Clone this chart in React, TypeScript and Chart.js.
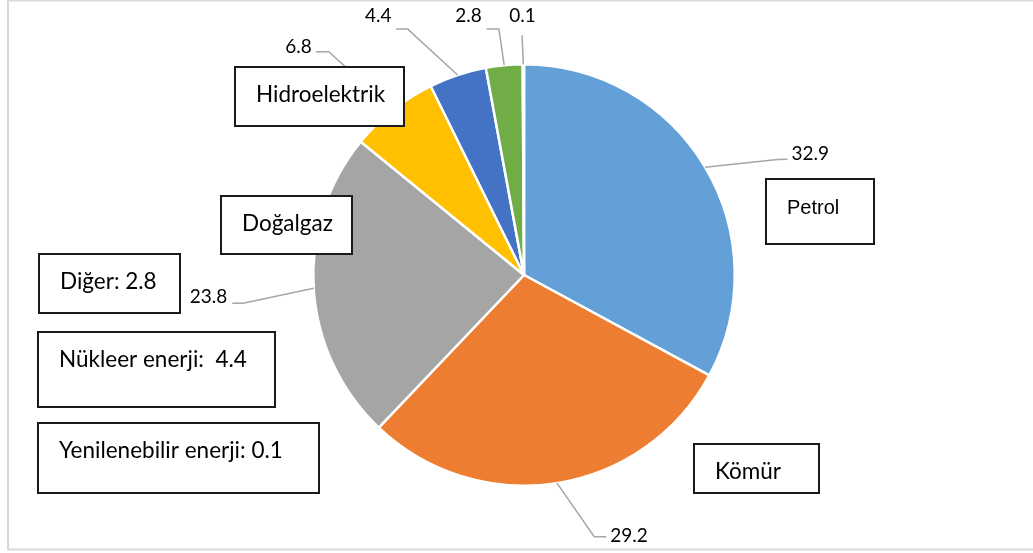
import React, { useEffect, useRef } from "react";
import { Chart, registerables } from "chart.js";

Chart.register(...registerables);

// ---- data ----
const categories = ["Petrol", "Kömür", "Doğalgaz", "Hidroelektrik", "Nükleer enerji", "Diğer", "Yenilenebilir enerji"];
const shares = [32.9, 29.2, 23.8, 6.8, 4.4, 2.8, 0.1];
const sliceColors = ["#64A0D8", "#ED7D31", "#A5A5A5", "#FFC000", "#4472C4", "#70AD47", "#255E91"];
const boxTexts = ["Petrol", "Kömür", "Doğalgaz", "Hidroelektrik", "Diğer: 2.8", "Nükleer enerji:  4.4", "Yenilenebilir enerji: 0.1"];

// ---- styling / layout (offsets relative to slice mid-point on the rim) ----
// [elbowDx, elbowDy, endDx, endDy, textDx, textDy, align]
const leaderLayout: [number, number, number, number, number, number, CanvasTextAlign][] = [
  [72.5, -7.6, 82.5, -8, 86.5, -7, "left"],
  [37.3, 53.6, 49.3, 53.6, 53.3, 59.3, "left"],
  [-70.4, 14.9, -81.4, 14.9, -86.4, 14.6, "right"],
  [-63.9, -58.4, -76.9, -58.4, -80.9, -57.4, "right"],
  [-49.9, -45.9, -61.5, -45.9, -66.2, -52.6, "right"],
  [-5.3, -36.2, -17.6, -36.2, -22.3, -42.9, "right"],
  [-1.3, -29, -1.3, -29, -0.8, -42, "center"],
];
// box rectangles [x, y, w, h]
const boxRects: [number, number, number, number][] = [
  [766, 179, 108, 65],
  [694, 444, 125, 49],
  [221, 196, 131, 58],
  [235, 67, 169, 59],
  [39, 254, 141, 59],
  [38, 332, 237, 75],
  [38, 423, 281, 70],
];

const overlayPlugin = {
  id: "overlay",
  afterDraw(chart: any) {
    const ctx = chart.ctx as CanvasRenderingContext2D;
    const meta = chart.getDatasetMeta(0);
    ctx.save();
    // leader lines + value labels
    meta.data.forEach((arc: any, i: number) => {
      const p = arc.getProps(["x", "y", "startAngle", "endAngle", "outerRadius"], true);
      const mid = (p.startAngle + p.endAngle) / 2;
      const ax = p.x + Math.cos(mid) * p.outerRadius;
      const ay = p.y + Math.sin(mid) * p.outerRadius;
      const [ex, ey, nx, ny, tx, ty, align] = leaderLayout[i];
      ctx.strokeStyle = "#A6A6A6";
      ctx.lineWidth = 1.5;
      ctx.beginPath();
      ctx.moveTo(ax, ay);
      ctx.lineTo(ax + ex, ay + ey);
      ctx.lineTo(ax + nx, ay + ny);
      ctx.stroke();
      ctx.fillStyle = "#000";
      ctx.font = "19px Lato";
      ctx.textAlign = align;
      ctx.textBaseline = "alphabetic";
      ctx.fillText(shares[i].toFixed(1), ax + tx, ay + ty);
    });
    // text boxes
    boxRects.forEach(([x, y, w, h], i) => {
      ctx.fillStyle = "#FFFFFF";
      ctx.fillRect(x, y, w, h);
      ctx.strokeStyle = "#1A1A1A";
      ctx.lineWidth = 2;
      ctx.strokeRect(x, y, w, h);
      ctx.fillStyle = "#000";
      ctx.textAlign = "left";
      ctx.textBaseline = "alphabetic";
      ctx.font = i === 0 ? "20px 'Liberation Sans'" : "22.5px Lato";
      ctx.fillText(boxTexts[i], x + 21, y + 35);
    });
    // outer frame
    ctx.strokeStyle = "#D9D9D9";
    ctx.lineWidth = 2;
    ctx.strokeRect(8, 0.5, 1030, 549);
    ctx.restore();
  },
};

export default function App() {
  const ref = useRef<HTMLCanvasElement>(null);
  useEffect(() => {
    if (!ref.current) return;
    const chart = new Chart(ref.current, {
      type: "pie",
      data: {
        labels: categories,
        datasets: [
          {
            data: shares,
            backgroundColor: sliceColors,
            borderColor: "#FFFFFF",
            borderWidth: 2.5,
          },
        ],
      },
      options: {
        responsive: false,
        animation: false,
        layout: { padding: { top: 63, bottom: 66, left: 312, right: 297 } },
        plugins: {
          legend: { display: false },
          tooltip: { enabled: false },
          title: { display: false },
        },
      },
      plugins: [overlayPlugin],
    });
    return () => chart.destroy();
  }, []);
  return (
    <div style={{ position: "fixed", left: 0, top: 0, width: 1033, height: 553, background: "#fff" }}>
      <canvas ref={ref} width={1033} height={553} style={{ display: "block" }} />
    </div>
  );
}
